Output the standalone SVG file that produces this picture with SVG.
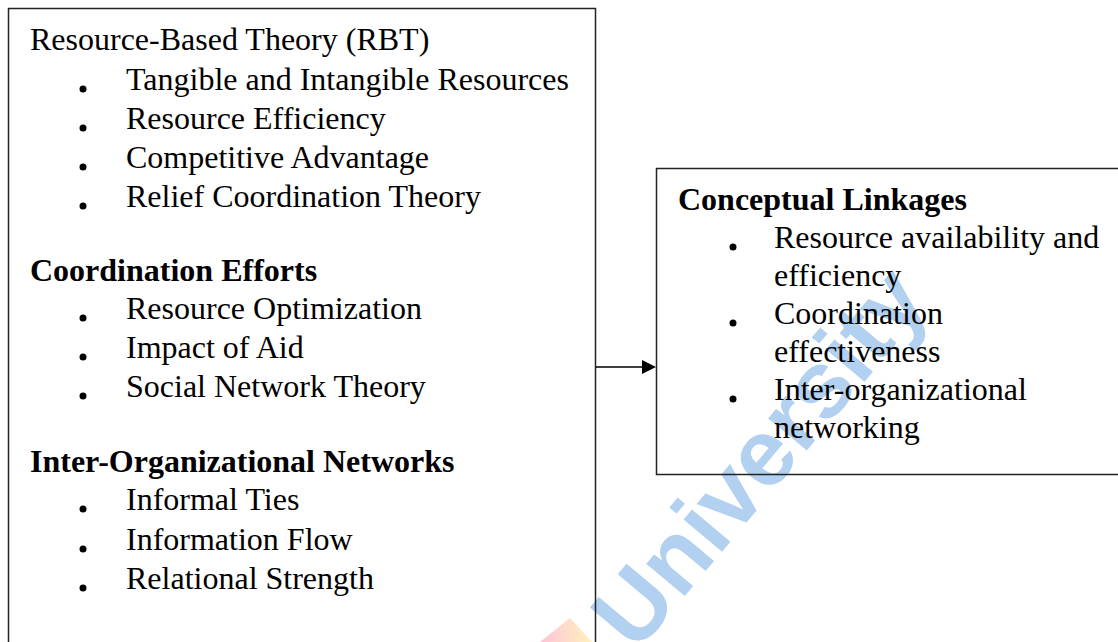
<svg xmlns="http://www.w3.org/2000/svg" width="1118" height="642" viewBox="0 0 1118 642">
<defs>
<style>
.box{fill:none;stroke:#222;stroke-width:1.5}
.t{font-family:"Liberation Serif","Times New Roman",serif;font-size:32px;fill:#000}
.b{font-weight:bold}
.dot{fill:#000}
.wm{font-family:"Liberation Sans",Arial,sans-serif;font-weight:bold;font-size:95px;fill:#b2d1f0}
</style>
<linearGradient id="lg" x1="0" y1="0" x2="1" y2="0">
<stop offset="0" stop-color="#ff7aa8"/>
<stop offset="1" stop-color="#ffe36a"/>
</linearGradient>
</defs>
<rect width="1118" height="642" fill="#fff"/>
<g id="watermark">
<polygon points="540,642 570,618 592,642" fill="url(#lg)" opacity="0.45"/>
<text class="wm" x="0" y="26" text-anchor="middle" transform="translate(764 461) rotate(-50)">University</text>
</g>
<g id="node-left">
<rect class="box" x="8.5" y="8.5" width="587" height="700"/>
<text class="t" x="30" y="50">Resource-Based Theory (RBT)</text>
<circle class="dot" cx="83" cy="89" r="3.5"/><text class="t" x="126" y="90">Tangible and Intangible Resources</text>
<circle class="dot" cx="83" cy="128" r="3.5"/><text class="t" x="126" y="129">Resource Efficiency</text>
<circle class="dot" cx="83" cy="167" r="3.5"/><text class="t" x="126" y="168">Competitive Advantage</text>
<circle class="dot" cx="83" cy="206" r="3.5"/><text class="t" x="126" y="207">Relief Coordination Theory</text>
<text class="t b" x="30" y="281">Coordination Efforts</text>
<circle class="dot" cx="83" cy="318" r="3.5"/><text class="t" x="126" y="319">Resource Optimization</text>
<circle class="dot" cx="83" cy="357" r="3.5"/><text class="t" x="126" y="358">Impact of Aid</text>
<circle class="dot" cx="83" cy="396" r="3.5"/><text class="t" x="126" y="397">Social Network Theory</text>
<text class="t b" x="30" y="472">Inter-Organizational Networks</text>
<circle class="dot" cx="83" cy="509" r="3.5"/><text class="t" x="126" y="510">Informal Ties</text>
<circle class="dot" cx="83" cy="549" r="3.5"/><text class="t" x="126" y="550">Information Flow</text>
<circle class="dot" cx="83" cy="588" r="3.5"/><text class="t" x="126" y="589">Relational Strength</text>
</g>
<g id="node-right">
<rect class="box" x="656.5" y="168.5" width="500" height="306"/>
<text class="t b" x="678" y="210">Conceptual Linkages</text>
<circle class="dot" cx="733" cy="247" r="3.5"/><text class="t" x="774" y="248">Resource availability and</text>
<text class="t" x="774" y="286">efficiency</text>
<circle class="dot" cx="733" cy="323" r="3.5"/><text class="t" x="774" y="324">Coordination</text>
<text class="t" x="774" y="362">effectiveness</text>
<circle class="dot" cx="733" cy="399" r="3.5"/><text class="t" x="774" y="400">Inter-organizational</text>
<text class="t" x="774" y="438">networking</text>
</g>
<g id="connectors">
<line x1="596" y1="367" x2="644" y2="367" stroke="#000" stroke-width="1.5"/>
<polygon points="642,360 656,367 642,374" fill="#000"/>
</g>
</svg>
